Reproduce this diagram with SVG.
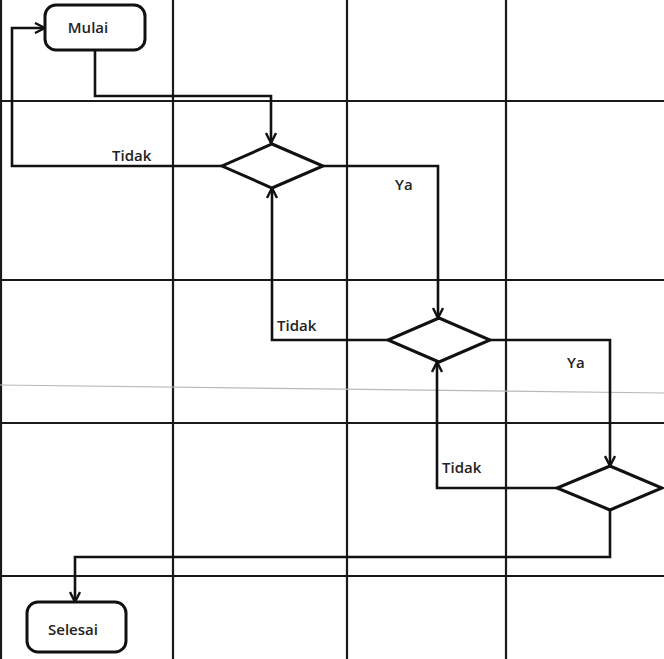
<svg xmlns="http://www.w3.org/2000/svg" width="664" height="659" viewBox="0 0 664 659">
<defs>
<style>
.grid{stroke:#1a1a1a;stroke-width:2.2;fill:none}
.faint{stroke:#b8b8c0;stroke-width:1.2;fill:none}
.conn{stroke:#111;stroke-width:2.6;fill:none;stroke-linejoin:miter}
.node{stroke:#111;stroke-width:3;fill:#fff}
.lbl{font-family:"Open Sans","Liberation Sans",sans-serif;font-weight:600;font-size:15px;fill:#222}
.ntxt{font-family:"Open Sans","Liberation Sans",sans-serif;font-weight:600;font-size:15px;fill:#222;text-anchor:middle}
</style>
<marker id="arr" viewBox="0 0 12 12" refX="11" refY="6" markerWidth="12" markerHeight="12" markerUnits="userSpaceOnUse" orient="auto">
<path d="M1,1 L11,6 L1,11" fill="none" stroke="#111" stroke-width="2.4"/>
</marker>
</defs>
<rect width="664" height="659" fill="#fff"/>
<g id="grid">
<line class="grid" x1="1" y1="0" x2="1" y2="659"/>
<line class="grid" x1="173" y1="0" x2="173" y2="659"/>
<line class="grid" x1="347" y1="0" x2="347" y2="659"/>
<line class="grid" x1="506" y1="0" x2="506" y2="659"/>
<line class="grid" x1="0" y1="101" x2="664" y2="101"/>
<line class="grid" x1="0" y1="280" x2="664" y2="280"/>
<line class="grid" x1="0" y1="423" x2="664" y2="423"/>
<line class="grid" x1="0" y1="576" x2="664" y2="576"/>
<line class="faint" x1="0" y1="385" x2="664" y2="393"/>
</g>
<g id="connectors">
<polyline class="conn" points="95,50 95,96 271,96 271,143" marker-end="url(#arr)"/>
<polyline class="conn" points="222,166 12,166 12,28 45,28" marker-end="url(#arr)"/>
<polyline class="conn" points="323,166 438,166 438,318" marker-end="url(#arr)"/>
<polyline class="conn" points="388,340 272,340 272,188" marker-end="url(#arr)"/>
<polyline class="conn" points="490,340 610,340 610,466" marker-end="url(#arr)"/>
<polyline class="conn" points="557,488 437,488 437,362" marker-end="url(#arr)"/>
<polyline class="conn" points="610,510 610,557 75,557 75,602" marker-end="url(#arr)"/>
<text class="lbl" x="112" y="161">Tidak</text>
<text class="lbl" x="395" y="190">Ya</text>
<text class="lbl" x="277" y="331">Tidak</text>
<text class="lbl" x="567" y="368">Ya</text>
<text class="lbl" x="442" y="473">Tidak</text>
</g>
<g id="mulai">
<rect class="node" x="45" y="5" width="100" height="45" rx="11"/>
<text class="ntxt" x="88" y="33">Mulai</text>
</g>
<g id="decision1">
<polygon class="node" points="272,144 323,166 272,188 222,166"/>
</g>
<g id="decision2">
<polygon class="node" points="439,318 490,340 439,362 388,340"/>
</g>
<g id="decision3">
<polygon class="node" points="610,466 662,488 610,510 557,488"/>
</g>
<g id="selesai">
<rect class="node" x="27" y="602" width="99" height="50" rx="11"/>
<text class="ntxt" x="73" y="635">Selesai</text>
</g>
</svg>
